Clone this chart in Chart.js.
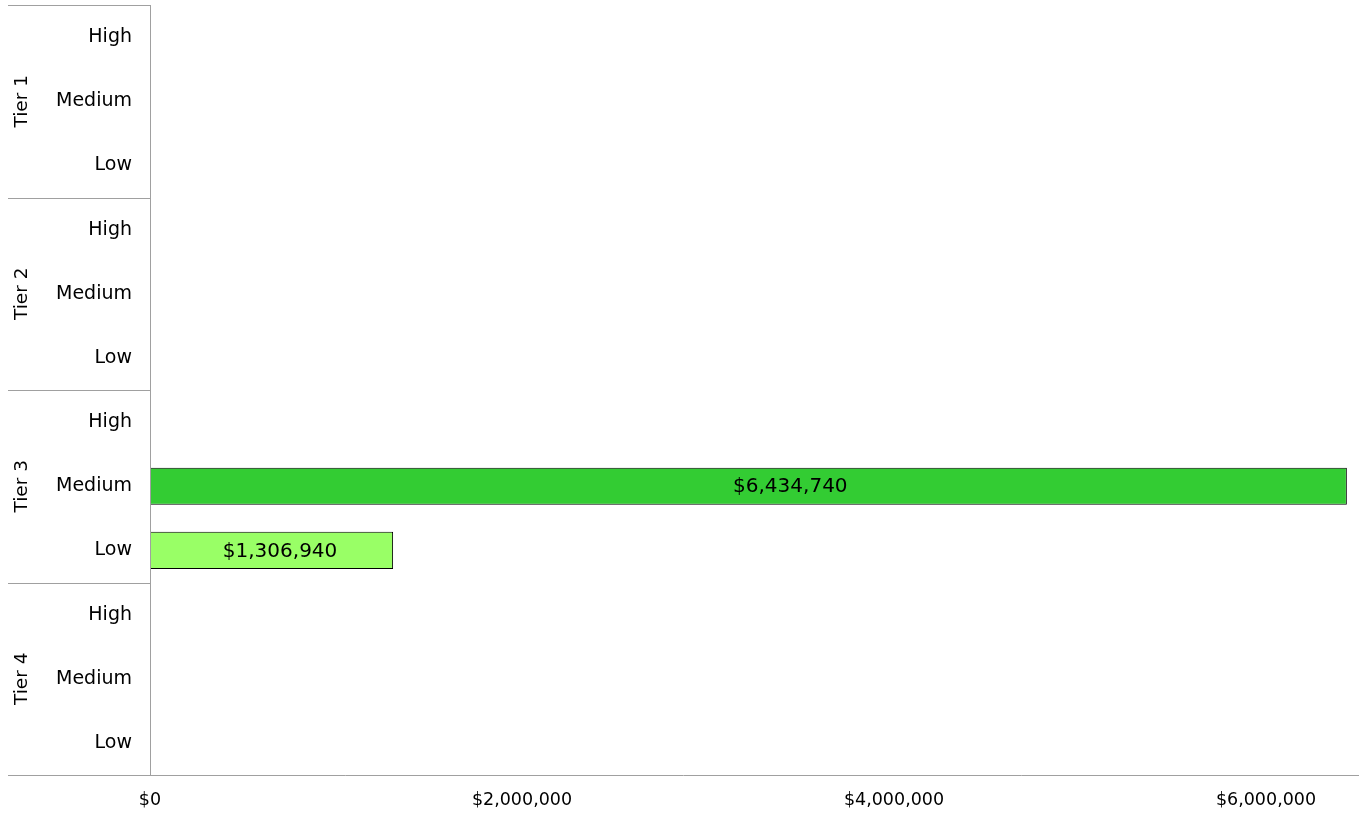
<!DOCTYPE html>
<html>
<head>
<meta charset="utf-8">
<script src="https://cdn.jsdelivr.net/npm/chart.js@4/dist/chart.umd.min.js"></script>
<style>
  html, body { margin: 0; padding: 0; background: #fff; }
  #wrap { width: 1361px; height: 817px; }
</style>
</head>
<body>
<div id="wrap"><canvas id="grafico"></canvas></div>
<script>
// DADOS
const tiers = ['Tier 1', 'Tier 2', 'Tier 3', 'Tier 4'];
const levels = ['High', 'Medium', 'Low'];
const tier1 = [null, null, null];
const tier2 = [null, null, null];
const tier3 = [null, 6434740, 1306940];
const tier4 = [null, null, null];
const levelColors = ['#006600', '#33cc33', '#99ff66'];
const xTicks = [0, 2000000, 4000000, 6000000];
const xMax = 6500000;

const labels = [];
const values = [];
const colors = [];
[tier1, tier2, tier3, tier4].forEach((serie) => {
    serie.forEach((v, i) => {
        labels.push(levels[i]);
        values.push(v);
        colors.push(levelColors[i]);
    });
});

const FONT = '"DejaVu Sans", Verdana, sans-serif';
const money = (v) => '$' + Math.round(v).toLocaleString('en-US');

// GRUPOS + RÓTULOS
const tierPlugin = {
    id: 'tierPlugin',
    afterDraw(chart) {
        const ctx = chart.ctx;
        const area = chart.chartArea;
        const y = chart.scales.y;
        const step = (y.bottom - y.top) / labels.length;
        ctx.save();
        ctx.strokeStyle = '#a0a0a0';
        ctx.lineWidth = 1;
        for (let t = 0; t <= tiers.length; t++) {
            const py = Math.round(y.top + t * levels.length * step) + 0.5;
            ctx.beginPath();
            ctx.moveTo(8, py);
            ctx.lineTo(t === tiers.length ? area.right : area.left, py);
            ctx.stroke();
        }
        ctx.beginPath();
        ctx.moveTo(Math.round(area.left) + 0.5, area.top);
        ctx.lineTo(Math.round(area.left) + 0.5, area.bottom);
        ctx.stroke();

        ctx.fillStyle = '#000';
        ctx.font = '18.5px ' + FONT;
        ctx.textAlign = 'center';
        ctx.textBaseline = 'middle';
        tiers.forEach((nome, t) => {
            const cy = y.top + (t + 0.5) * levels.length * step;
            ctx.save();
            ctx.translate(22, cy);
            ctx.rotate(-Math.PI / 2);
            ctx.fillText(nome, 0, 0);
            ctx.restore();
        });

        // valores nas barras (um pouco à direita do centro, como no original)
        const meta = chart.getDatasetMeta(0);
        ctx.font = '20px ' + FONT;
        meta.data.forEach((bar, i) => {
            const v = values[i];
            if (v == null) return;
            const cx = bar.base + (bar.x - bar.base) * 0.535;
            ctx.fillText(money(v), cx, bar.y + 1);
        });
        ctx.restore();
    }
};

const el = document.getElementById('grafico');
new Chart(el, {
    type: 'bar',
    data: {
        labels: labels,
        datasets: [{
            data: values,
            backgroundColor: colors,
            borderColor: '#000',
            borderWidth: 1,
            borderSkipped: false,
            categoryPercentage: 1,
            barPercentage: 0.58
        }]
    },
    options: {
        indexAxis: 'y',
        responsive: true,
        maintainAspectRatio: false,
        animation: false,
        layout: { padding: { left: 40, right: 2, top: 5, bottom: 4 } },
        plugins: {
            legend: { display: false },
            tooltip: { enabled: false }
        },
        scales: {
            x: {
                min: 0,
                max: xMax,
                afterBuildTicks: (s) => { s.ticks = xTicks.map((v) => ({ value: v })); },
                afterFit: (s) => { s.height = 38; s.paddingLeft = 0; s.paddingRight = 0; },
                grid: { display: false, drawTicks: false },
                border: { display: false },
                ticks: {
                    color: '#000',
                    padding: 15,
                    font: { family: FONT, size: 17.5 },
                    callback: (v) => money(v),
                    maxRotation: 0
                }
            },
            y: {
                afterFit: (s) => { s.width = 110; s.paddingTop = 0; s.paddingBottom = 0; },
                grid: { display: false, drawTicks: false },
                border: { display: false },
                ticks: {
                    color: '#000',
                    padding: 18,
                    autoSkip: false,
                    font: { family: FONT, size: 19 }
                }
            }
        }
    },
    plugins: [tierPlugin]
});
</script>
</body>
</html>
